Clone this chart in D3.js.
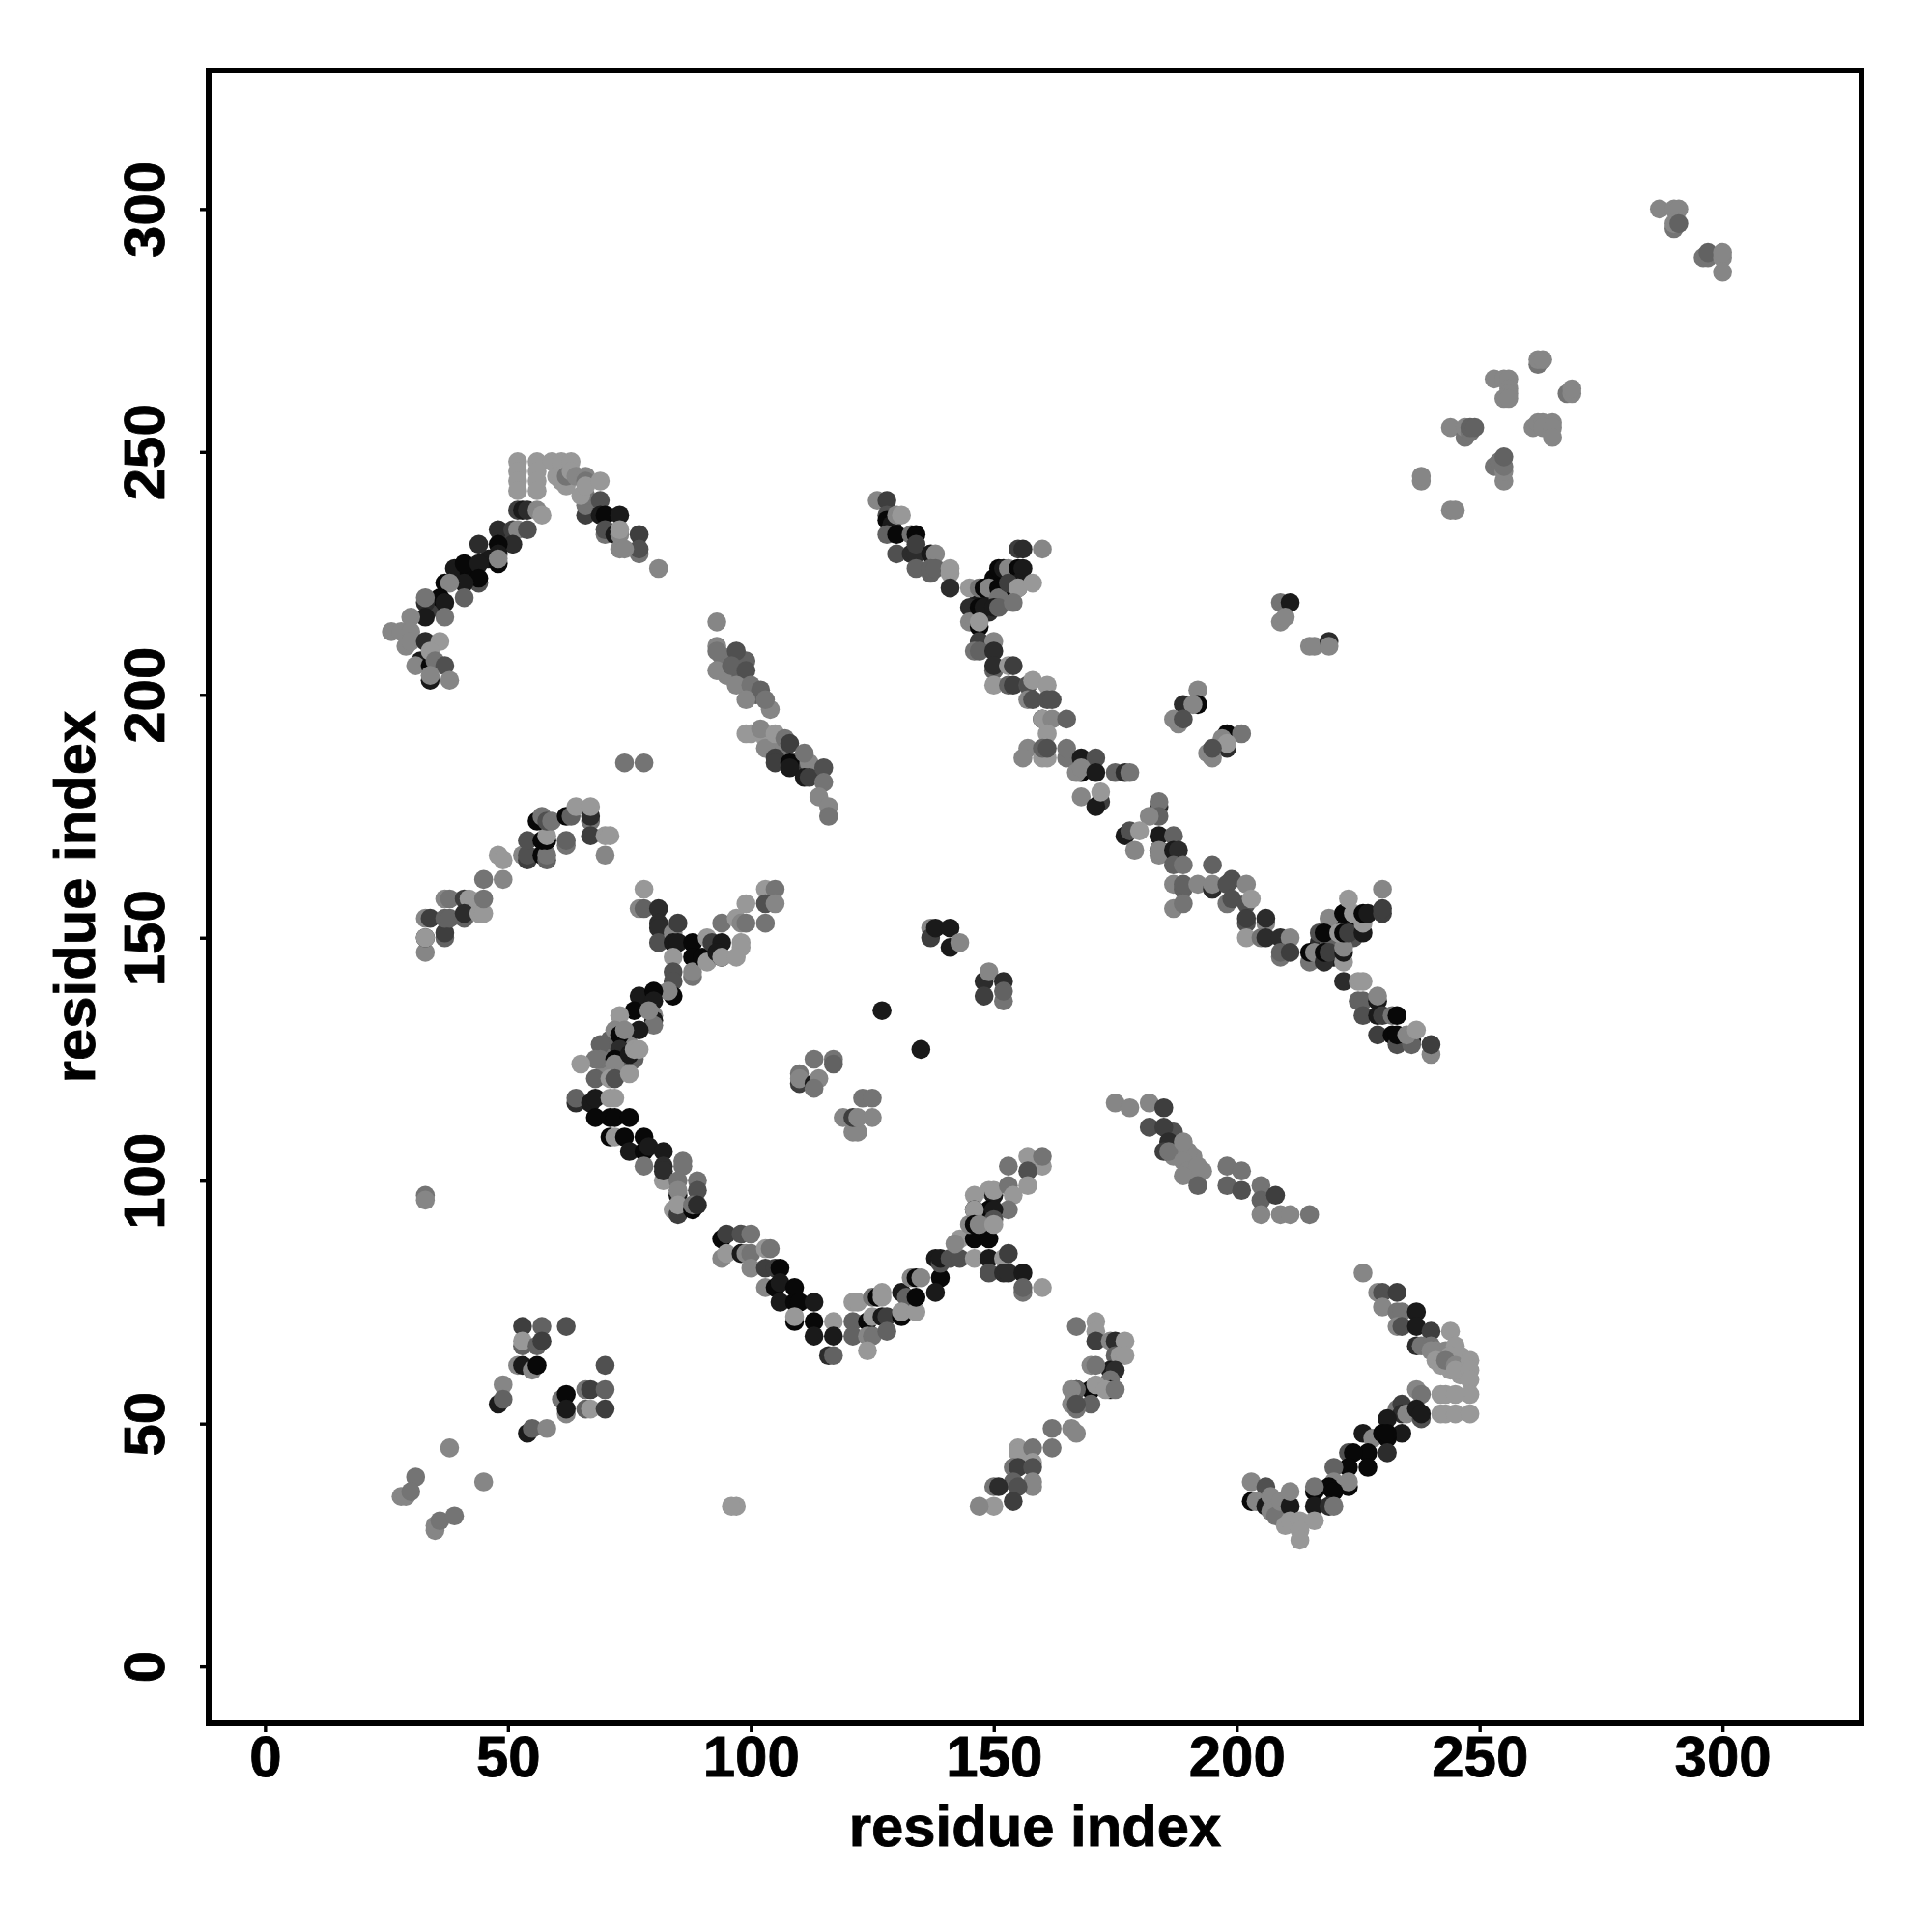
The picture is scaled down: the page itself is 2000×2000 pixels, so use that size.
<!DOCTYPE html>
<html><head><meta charset="utf-8">
<script src="https://cdn.jsdelivr.net/npm/d3@7"></script>
<style>html,body{margin:0;padding:0;background:#fff}svg{display:block}</style>
</head><body><svg id="c" width="2000" height="2000"></svg>
<script>
// Each contact: [residue i, residue j, darkness class 0 (darkest) .. 8 (lightest)]
const armTopLeft=[[39,226,1],[46,228,1],[42,225,0],[35,218,3],[50,233,3],[52,248,8],[56,248,8],[59,248,8],[61,248,8],[63,248,8],[52,246,8],[52,244,8],[52,242,8],[56,246,8],[56,244,8],[56,242,8],
[66,237,3],[66,239,6],[66,241,6],[65,241,8],[60,245,8],[61,244,8],[62,243,8],[62,245,6],[63,246,8],[64,245,7],[66,245,7],[66,244,6],[66,243,8],[69,244,8],
[69,240,4],[69,237,1],[70,237,0],[73,237,1],[70,233,6],[70,234,4],[72,233,1],[73,233,7],[73,234,8],[77,233,3],[77,229,6],[77,230,4],[73,230,7],[74,230,7],[81,226,7],
[52,238,3],[53,238,1],[54,238,2],[56,238,7],[57,237,8],[48,234,2],[51,234,3],[52,234,7],[54,234,4],[51,231,2],[48,231,0],[44,231,2],[48,229,1],[48,227,0],[48,228,7],
[41,227,0],[44,227,1],[44,223,4],[44,224,0],[41,223,1],[37,223,0],[38,223,7],[41,220,5],[36,220,0],[37,219,1],[33,219,2],[33,220,6],[33,216,1],[37,216,6],[30,216,7],
[26,213,7],[28,213,7],[30,213,7],[29,210,7],[30,211,7],[33,211,2],[36,211,8],[32,207,1],[31,206,7],[34,206,0],[34,209,8],[35,207,6],[37,206,4],[34,203,1],[34,204,7],[38,203,7]];
const armUpperLeft=[[74,186,6],[78,186,6],[33,147,7],[33,150,1],[33,150,8],[33,154,7],[34,154,3],[37,150,5],[37,151,3],[37,154,5],[38,154,5],[37,158,7],[38,158,6],
[41,158,3],[42,158,8],[41,154,5],[41,155,2],[44,155,8],[45,155,8],[45,158,6],[45,162,6],[49,162,7],[48,167,8],[49,166,8],[53,167,7],[54,166,3],[54,167,4],[54,170,4],
[57,167,0],[58,166,5],[58,167,6],[57,170,0],[58,170,0],[58,171,8],[56,174,0],[57,175,6],[58,174,4],[59,174,6],[62,175,0],[62,169,6],[62,170,5],[63,175,5],[64,177,8],[67,174,6],[67,175,2],[67,177,8],[67,171,3],[70,171,8],[71,171,8],[70,167,7]];
const armCenterUpper=[[70,127,6],[71,129,5],[73,125,4],[74,124,6],[70,123,7],[75,128,7],[74,123,5],[78,160,8],[77,156,7],[78,156,5],[81,156,2],[81,153,2],[81,152,2],[81,149,4],[84,151,7],[85,153,3],[84,149,1],[85,149,1],[88,149,0],[88,146,0],[84,146,8],[84,143,4],[84,141,4],[84,138,0],[83,139,7],
[88,142,6],[88,143,7],[90,146,0],[91,150,8],[92,149,3],[91,145,8],[94,153,6],[94,149,1],[93,147,1],[94,146,0],[94,146,8],[97,154,8],[98,153,7],[99,153,6],[98,149,8],[98,148,8],[97,146,8],[99,157,8],[103,160,8],[105,160,6],[103,157,4],[105,157,7],[103,153,6],
[77,138,1],[80,139,0],[80,137,1],[80,134,7],[80,133,1],[80,132,6],[76,135,0],[79,135,7],[77,131,1],[73,134,8],[72,131,7],[73,130,0],[74,131,7],[73,127,2],[69,128,5],[69,125,6],[68,125,6],[72,125,0],[72,124,7],
[76,125,5],[75,126,1],[76,127,8],[77,127,8],[65,124,8],[68,121,5],[71,121,8],[72,121,4],[75,122,8],
[64,116,2],[64,117,5],[67,116,1],[68,117,1],[71,117,8],[72,117,8],[68,113,0],[71,113,0],[72,113,0],[75,113,0],[71,109,0],[72,109,8],[74,109,0],[78,109,0],[75,106,1],[78,106,0],[79,107,1],[82,106,1],[78,103,6],[82,103,2],[82,100,8]];
const armCenterLower=[[86,104,6],[86,103,6],[82,102,2],[85,100,6],[89,100,6],[89,98,4],[85,97,1],[85,98,7],[84,94,8],[85,93,3],[85,95,8],[88,94,0],[88,95,6],[89,95,2],
[94,88,0],[95,89,3],[98,89,4],[100,89,6],[94,84,7],[95,85,8],[98,85,1],[99,85,7],[100,85,6],[103,86,8],[104,86,6],[100,82,7],[103,82,3],[105,82,3],[106,82,0],[103,78,7],[105,78,0],[106,79,1],[109,78,0],[106,75,1],[109,75,0],[110,75,0],[113,75,1],
[109,71,0],[109,72,8],[113,71,0],[117,71,8],[113,68,1],[117,68,1],[116,64,2],[117,64,5],[121,75,8],[122,75,8],[121,71,5],[121,68,5],[125,76,6],[126,76,0],[127,77,8],[127,76,8],[124,71,0],[125,72,8],[127,72,1],[128,72,3],[124,68,7],[125,68,6],[128,69,5],[124,65,8],
[131,77,1],[132,76,5],[131,72,0],[131,73,8],[134,73,8],[134,76,0],[133,80,7],[134,80,0],[135,80,7],[139,80,0],[138,77,1],[138,84,1],[139,83,4],[139,84,1],[141,84,4],[143,84,4],[143,88,8],[142,87,7],[146,84,8],[146,88,0],[149,88,0],[149,84,1],[152,84,8],[153,85,3],[149,81,4],[152,81,2],[153,81,2],[156,81,1],[156,77,6],[156,78,5],[160,78,8],
[146,97,8],[149,98,8],[150,97,1],[150,98,8],[153,99,6],[154,97,8],[153,94,6],[149,94,0],[150,94,1],[150,92,4],[146,94,0],[146,94,8],[145,91,7],[146,91,0],[147,91,7],[150,91,8],[153,103,6],[157,105,8],[160,103,8],[160,105,6],[157,102,4],[157,99,8],
[97,33,8],[96,33,8],[33,97,6],[33,96,7]];
const clusterRightLow=[[167,70,6],[171,71,8],[171,69,8],[171,67,3],[174,67,7],[175,67,2],[177,67,8],[175,64,5],[176,64,8],[177,64,8],[174,61,1],[175,61,2],[170,62,7],[171,62,6],[174,59,6],[170,57,0],[171,58,8],[167,57,0],[167,57,5],[166,57,7],[174,57,1],[173,57,8],[175,57,6],[170,54,5],[166,54,7],[167,53,6],[167,54,4],
[162,49,6],[166,49,7],[167,48,7],[162,45,6],[155,45,8],[155,44,8],[158,45,6],[158,42,8],[154,41,6],[155,41,3],[158,41,4],[158,37,7],[158,38,7],[154,38,5],[155,37,4],[150,37,6],[151,37,2],[154,34,3],[150,33,8],[147,33,7]];
const armUpperRightA=[[149,220,4],[150,224,0],[153,221,0],[149,217,2],[147,220,1],[126,240,7],[128,240,3],[128,237,4],[128,236,0],[129,235,1],[130,237,7],[131,237,8],[128,233,5],[130,233,0],[133,233,6],[134,233,0],[130,229,4],[133,229,2],[134,229,2],[134,231,3],[137,229,1],[138,229,7],[134,226,5],[137,225,5],[137,226,5],[138,226,5],[141,225,8],[141,226,8],[141,222,2],
[145,222,8],[145,218,2],[145,215,7],[146,215,7],[147,222,6],[148,222,0],[149,222,7],[147,218,0],[148,218,1],[147,214,0],[147,215,8],[151,226,0],[152,226,1],[153,226,7],[152,222,0],[151,222,0],[151,220,6],[150,218,1],[151,218,5],[155,230,3],[156,230,2],[160,230,7],[155,226,0],[156,226,1],[155,223,1],[153,223,3],[155,222,4],[155,222,8],[158,223,8],[154,219,6],
[147,211,3],[150,211,7],[146,209,6],[147,209,5],[150,209,2],[150,205,5],[150,206,2],[153,206,8],[154,206,3],[150,202,8],[153,202,5],[154,202,3],[157,202,4],[158,203,8],[161,202,8],[157,199,7],[158,199,4],[161,199,4],[162,199,4],[160,195,1],[160,195,8],[162,195,7],[165,195,5],[161,192,8],
[157,189,7],[156,187,7],[160,187,8],[161,187,8],[160,189,5],[161,189,4],[165,187,6],[165,189,6],[168,187,1],[171,187,4],[168,184,0],[167,184,7],[168,185,7],[171,184,1],[175,184,5],[177,184,2],[178,184,6]];
const armUpperRightB=[[220,152,0],[221,149,3],[224,150,4],[224,153,0],[217,149,2],[220,146,1],[219,149,5],[189,198,2],[192,201,7],[192,198,0],[191,198,7],[187,195,7],[188,194,7],[189,195,4],[198,192,0],[197,191,7],[201,192,6],[198,189,2],[198,190,8],[194,188,7],[195,187,7],[195,189,4],
[168,179,7],[172,178,3],[171,177,1],[172,180,8],[184,177,2],[184,178,6],[184,175,5],[182,175,7],[184,171,1],[187,171,5],[177,171,1],[178,172,4],[180,172,8],[179,168,7],[184,168,0],[184,167,7],[184,168,7],[187,168,1],[188,168,2],[187,165,5],[189,165,6],
[187,161,7],[189,160,5],[189,161,5],[192,161,7],[195,165,5],[195,160,7],[195,160,2],[195,161,7],[199,162,4],[198,161,4],[202,161,7],[198,157,6],[199,158,4],[202,157,4],[203,158,8],[187,156,7],[189,157,6],
[202,153,4],[202,154,3],[206,153,7],[206,154,2],[202,150,8],[205,150,6],[206,150,2],[209,150,2],[211,150,7],[209,146,6],[209,147,5],[211,147,3],
[215,145,6],[215,147,0],[216,147,7],[218,145,2],[218,147,0],[219,147,3],[219,154,7],[217,151,4],[218,151,0],[222,145,8],[222,147,1],[222,148,7],[221,151,8],[222,151,0],[223,151,3],[222,155,5],[222,155,0],[223,158,8],[224,155,8],[226,151,1],[226,153,8],[226,155,0],[227,155,1],[230,155,3],[230,156,3],[230,160,7],
[222,141,2],[225,141,8],[226,141,8],[225,137,5],[226,137,5],[226,134,4],[229,137,1],[229,138,7],[229,134,1],[230,134,3],[232,134,6],[233,134,0],[229,130,3],[232,130,0],[233,128,4],[233,130,0],[236,129,0],[236,128,5],[235,130,7],[237,131,8],[240,126,7],[240,128,3]];
const armLowerRight=[[226,81,7],[229,77,7],[230,77,4],[233,77,3],[230,74,7],[233,73,6],[234,73,6],[237,73,1],[233,70,7],[234,70,4],[237,70,1],[240,69,3],[244,69,8],[237,66,2],[238,66,6],[240,66,6],[241,65,7],[243,65,7],[245,66,8],[240,65,7],[241,63,8],[244,64,8],[246,64,8],[244,61,8],[246,60,8],[247,62,8],[242,62,8],[243,63,6],[245,62,7],[245,61,8],[248,63,8],[248,61,8],[248,59,8],[248,56,8],[242,56,8],[243,56,8],[245,56,8],[242,52,8],[243,52,8],[245,52,8],[248,52,8],
[237,57,7],[238,56,6],[233,53,6],[234,54,3],[234,52,2],[235,52,7],[237,53,1],[238,51,4],[238,52,1],[231,51,1],[234,48,1],[226,48,1],[228,47,7],[230,48,0],[231,47,0],[231,48,0],[231,44,2],[227,44,0],[223,44,4],[224,44,0],[227,41,0],[223,41,0],[220,41,5],[220,38,7],[223,37,0],[223,38,7],[219,37,0],[220,36,0],[216,36,0],[216,37,6],[216,33,1],[219,33,2],[220,33,6],
[203,38,7],[206,37,4],[203,34,0],[204,34,7],[206,33,1],[207,35,7],[207,32,7],[208,31,6],[209,34,7],[211,33,1],[211,36,7],[210,29,8],[211,30,8],[213,30,8],[216,30,8],[213,28,8],[213,26,8]];
const clusterLowerLeft=[[53,70,3],[57,70,5],[62,70,4],[53,66,5],[53,67,8],[56,66,5],[57,67,3],[70,62,4],[52,62,7],[53,62,1],[55,61,7],[56,62,0],[49,58,7],[48,54,1],[49,55,5],[61,55,6],[62,56,0],[62,52,7],[62,53,1],[66,57,6],[67,57,3],[70,57,5],[66,53,5],[67,53,8],[70,53,3],[54,48,1],[55,49,5],[58,49,7],[38,45,7],[31,39,6],[28,35,7],[29,35,7],[30,36,6],[45,38,7],[35,28,7],[35,29,7],[36,30,6],[39,31,6]];
const chainMidUpper=[[94,208,6],[95,204,7],[98,204,5],[99,207,5],[101,200,5],[104,197,7],[100,192,8],[103,191,8],[104,190,8],[106,189,7],[107,187,6],[109,186,4],[110,185,3],[113,184,3],[93,215,7],[93,210,7],[93,209,6],[93,205,7],[97,209,4],[96,206,5],[99,205,4],[97,202,7],[100,202,6],[102,201,5],[99,199,7],[103,199,6],[99,192,8],[102,193,7],[103,189,7],[105,192,8],[105,187,3],[107,191,6],[108,190,3],[105,186,3],[108,186,0],[108,185,1],[112,186,7],[111,188,6],[111,183,1],[112,183,3],[115,185,4],[115,182,6],[114,179,7],[116,177,7],[116,175,6]];
const chainMidLower=[[187,110,4],[187,105,7],[191,105,7],[190,106,7],[191,101,7],[193,102,7],[175,116,7],[178,115,7],[182,116,7],[185,115,3],[182,111,4],[185,111,3],[186,108,2],[185,106,3],[186,106,6],[189,108,7],[189,104,7],[190,102,7],[192,103,7],[189,101,7],[192,99,5],[198,103,6],[201,102,6],[198,99,5],[201,98,4],[205,99,6],[205,96,5],[208,97,3],[205,93,7],[209,93,7],[211,93,7],[215,93,6]];
const clusterCenter=[[127,135,1],[135,127,1],[110,122,6],[110,120,3],[110,121,7],[113,125,6],[113,120,1],[114,121,7],[113,119,6],[117,125,6],[117,124,5],[119,113,7],[121,110,7],[122,110,7],[121,113,3],[122,113,7],[123,117,6],[125,117,6],[125,113,7],
[137,152,7],[137,150,3],[138,152,1],[141,152,1],[141,148,1],[143,149,7],[148,141,2],[149,143,7],[152,141,2],[148,138,3],[152,137,6],[152,139,5]];
const clusterTopRight=[[209,219,6],[211,219,1],[209,215,7],[210,216,7],[215,210,7],[216,210,7],[219,211,2],[219,210,7],
[287,300,7],[290,300,7],[291,300,7],[290,296,6],[290,297,7],[291,297,5],[296,290,6],[297,290,6],[297,291,5],[300,290,7],[300,291,7],[300,287,7],
[262,268,6],[262,269,7],[263,269,7],[253,265,7],[255,265,7],[256,265,7],[256,263,7],[256,262,7],[255,261,7],[256,261,7],[268,262,6],[269,262,7],[269,263,7],
[261,255,7],[262,256,7],[263,256,7],[265,256,7],[263,255,7],[265,255,7],[265,253,7],[244,255,7],[247,253,6],[247,255,7],[248,254,6],[248,255,5],[249,255,5],
[253,247,6],[254,248,6],[255,244,7],[255,246,7],[255,247,6],[255,249,5],[238,244,7],[238,245,7],[244,238,7],[245,238,7]];

const tickValues=[0,50,100,150,200,250,300];
const axisTitle="residue index";
const groups=[clusterTopRight,clusterCenter,chainMidUpper,chainMidLower,clusterLowerLeft,armTopLeft,armUpperLeft,armCenterUpper,armCenterLower,clusterRightLow,armUpperRightA,armUpperRightB,armLowerRight];
const contacts=groups.flat();

const svg=d3.select("#c");
const L=216,R=1927,T=73,B=1784;
const x=d3.scaleLinear().domain([-11.6,328.6]).range([L,R]);
const y=d3.scaleLinear().domain([-11.7,328.5]).range([B,T]);
const grey=d3.scaleLinear().domain([0,8]).range([8,152]);
const font="'Liberation Sans',Arial,sans-serif";

svg.append("g").selectAll("circle").data(contacts).join("circle")
  .attr("cx",d=>x(d[0])).attr("cy",d=>y(d[1])).attr("r",9.8)
  .attr("fill",d=>{const g=Math.round(grey(d[2]));return d3.rgb(g,g,g).formatHex();});

svg.append("rect").attr("x",L).attr("y",T).attr("width",R-L).attr("height",B-T)
  .attr("fill","none").attr("stroke","#000").attr("stroke-width",6);

const ax=svg.append("g").attr("transform",`translate(0,${B})`)
  .call(d3.axisBottom(x).tickValues(tickValues).tickSize(9).tickPadding(0).tickFormat(d3.format("d")));
const ay=svg.append("g").attr("transform",`translate(${L},0)`)
  .call(d3.axisLeft(y).tickValues(tickValues).tickSize(9).tickPadding(0).tickFormat(d3.format("d")));
[ax,ay].forEach(a=>{a.select(".domain").remove();a.selectAll("line").attr("stroke","#000").attr("stroke-width",3.4);
  a.selectAll("text").attr("fill","#000").attr("stroke","#000").attr("stroke-width",0.8).attr("font-family",font).attr("font-weight","700").attr("font-size",60);});
ax.selectAll("text").attr("y",0).attr("dy",0).attr("transform","translate(0,55)").attr("text-anchor","middle");
ay.selectAll("text").attr("x",0).attr("dy",0).attr("text-anchor","middle").attr("dominant-baseline","auto")
  .attr("transform",d=>`translate(${170-L},0) rotate(-90)`);

svg.append("text").attr("x",(L+R)/2).attr("y",1911).attr("text-anchor","middle")
  .attr("font-family",font).attr("font-weight","700").attr("font-size",59.8).attr("fill","#000").attr("stroke","#000").attr("stroke-width",0.8).text(axisTitle);
svg.append("text").attr("transform",`translate(98,${(T+B)/2}) rotate(-90)`).attr("text-anchor","middle")
  .attr("font-family",font).attr("font-weight","700").attr("font-size",59.8).attr("fill","#000").attr("stroke","#000").attr("stroke-width",0.8).text(axisTitle);
</script></body></html>
